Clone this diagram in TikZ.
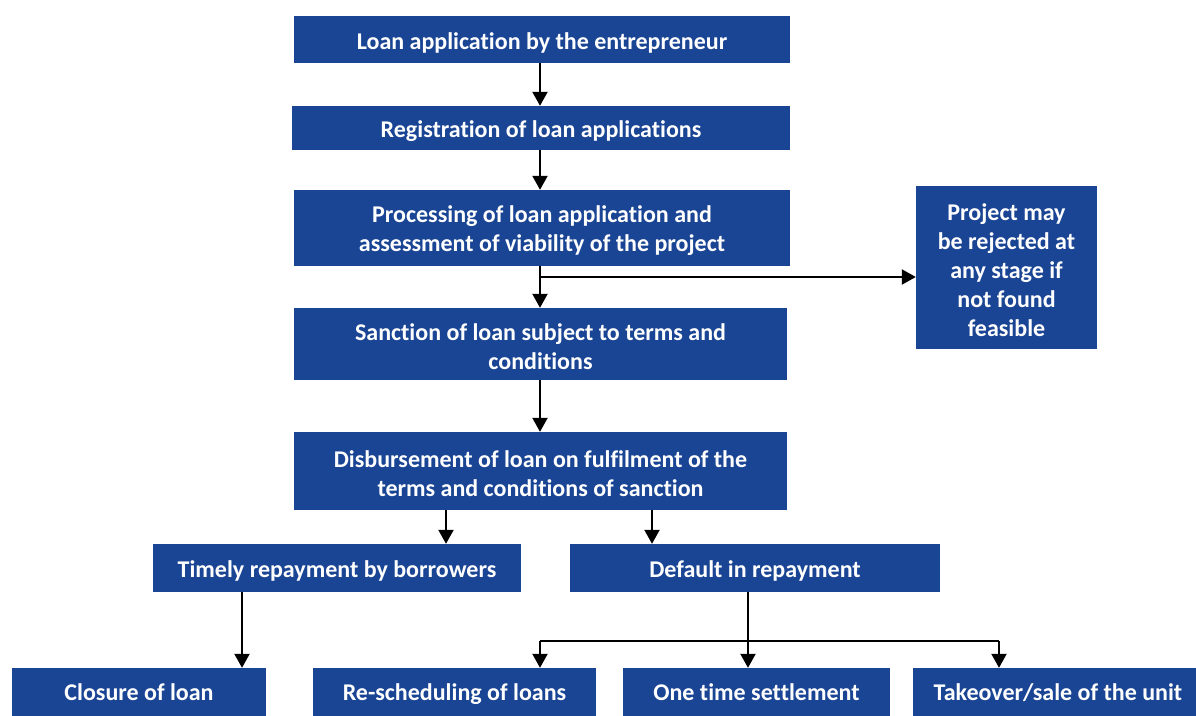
\documentclass[tikz,border=0pt]{standalone}
\usepackage{fontspec}
\setmainfont[Ligatures={NoCommon}]{Carlito}
\usetikzlibrary{arrows.meta}
\definecolor{boxblue}{RGB}{26,69,148}
\begin{document}
\begin{tikzpicture}[x=1pt,y=-1pt,
  box/.style={fill=boxblue,inner sep=0pt},
  lbl/.style={text=white,inner sep=0pt,align=center,yshift=-3pt,
    font=\fontsize{24}{29}\selectfont\bfseries},
  blbl/.style={text=white,inner sep=0pt,align=center,yshift=-1pt,
    text height=17pt,text depth=5pt,
    font=\fontsize{24}{29}\selectfont\bfseries},
  arr/.style={line width=2.2pt,-{Triangle[width=15pt,length=14pt]}},
  ln/.style={line width=2.2pt}]
\useasboundingbox (0,0) rectangle (1196,715);
\clip (0,0) rectangle (1196,715);
\fill[white] (0,0) rectangle (1196,715);
\node[box,minimum width=496pt,minimum height=47pt] (b1) at (542,39.5) {};
\node[lbl] (b1t) at (b1.center) {Loan application by the entrepreneur};
\node[box,minimum width=498pt,minimum height=44pt] (b2) at (541,128) {};
\node[lbl] (b2t) at (b2.center) {Registration of loan applications};
\node[box,minimum width=496pt,minimum height=76pt] (b3) at (542,228) {};
\node[lbl] (b3t) at (b3.center) {Processing of loan application and\\assessment of viability of the project};
\node[box,minimum width=181pt,minimum height=163pt] (rej) at (1006.5,267.5) {};
\node[lbl] (rejt) at (rej.center) {Project may\\be rejected at\\any stage if\\not found\\feasible};
\node[box,minimum width=493pt,minimum height=72pt] (b5) at (540.5,344) {};
\node[lbl] (b5t) at (b5.center) {Sanction of loan subject to terms and\\conditions};
\node[box,minimum width=493pt,minimum height=78pt] (b6) at (540.5,471) {};
\node[lbl] (b6t) at (b6.center) {Disbursement of loan on fulfilment of the\\terms and conditions of sanction};
\node[box,minimum width=368pt,minimum height=48pt] (t7) at (337,568) {};
\node[lbl] (t7t) at (t7.center) {Timely repayment by borrowers};
\node[box,minimum width=370pt,minimum height=48pt] (d8) at (755,568) {};
\node[lbl] (d8t) at (d8.center) {Default in repayment};
\node[box,minimum width=254pt,minimum height=50pt] (c9) at (139,693) {};
\node[blbl] (c9t) at (c9.center) {Closure of loan};
\node[box,minimum width=283pt,minimum height=50pt] (r10) at (454.5,693) {};
\node[blbl] (r10t) at (r10.center) {Re-scheduling of loans};
\node[box,minimum width=267pt,minimum height=50pt] (o11) at (756.5,693) {};
\node[blbl] (o11t) at (o11.center) {One time settlement};
\node[box,minimum width=290pt,minimum height=50pt] (t12) at (1058,693) {};
\node[blbl] (t12t) at (t12.center) {Takeover/sale of the unit};
\coordinate (m) at (540,0);
\coordinate (ml) at (446,0);
\coordinate (mr) at (652,0);
\coordinate (tl) at (242,0);
\coordinate (dl) at (748,0);
\coordinate (rl) at (999,0);
\coordinate (br) at (540,277);
\coordinate (hy) at (0,641);
\draw[arr] (m |- b1.south) -- (m |- b2.north);
\draw[arr] (m |- b2.south) -- (m |- b3.north);
\draw[arr] (m |- b3.south) -- (m |- b5.north);
\draw[arr] (br) -- (br -| rej.west);
\draw[arr] (m |- b5.south) -- (m |- b6.north);
\draw[arr] (ml |- b6.south) -- (ml |- t7.north);
\draw[arr] (mr |- b6.south) -- (mr |- d8.north);
\draw[arr] (tl |- t7.south) -- (tl |- c9.north);
\draw[arr] (dl |- d8.south) -- (dl |- o11.north);
\draw[ln] (m |- hy) -- (rl |- hy);
\draw[arr] (m |- hy) -- (m |- r10.north);
\draw[arr] (rl |- hy) -- (rl |- t12.north);
\end{tikzpicture}
\end{document}
